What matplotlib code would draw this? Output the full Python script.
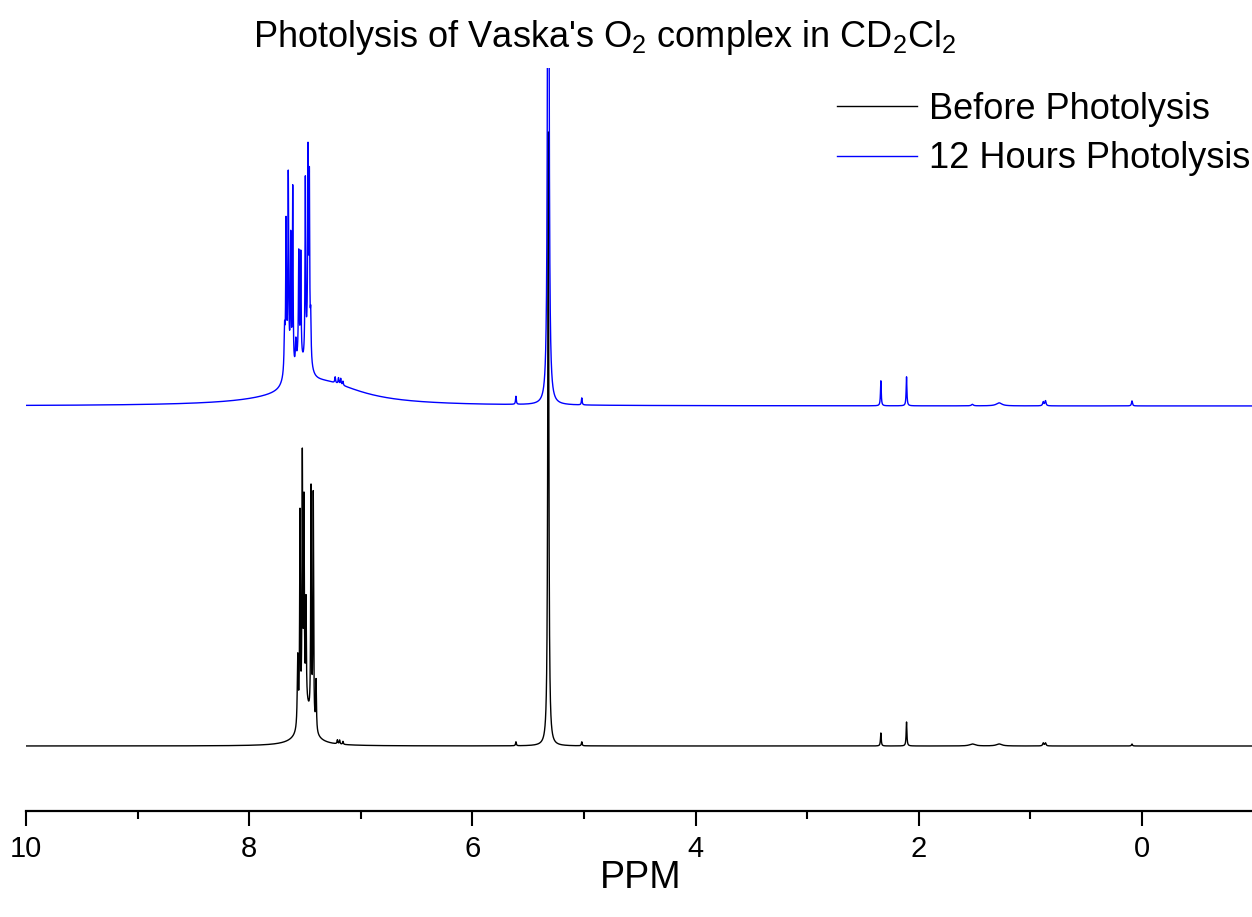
import numpy as np
import matplotlib
matplotlib.use("Agg")
import matplotlib.pyplot as plt
from matplotlib.lines import Line2D

plt.rcParams["font.family"] = ["Liberation Sans", "DejaVu Sans"]
plt.rcParams["mathtext.fontset"] = "custom"
plt.rcParams["mathtext.rm"] = "Liberation Sans"
plt.rcParams["mathtext.it"] = "Liberation Sans:italic"

# ---- peak tables (chemical shift in ppm, intensity in arbitrary units, half width at half max in ppm)
before_shift = [7.49, 7.565, 7.545, 7.524, 7.509, 7.491, 7.446, 7.426, 7.401,
                7.50, 7.21, 7.19, 7.16, 5.61, 5.32, 5.02,
                2.34, 2.11, 1.52, 1.28, 0.885, 0.865, 0.09]
before_height = [34, 70, 205, 252, 200, 100, 230, 230, 50,
                 4, 4, 4, 3, 4, 614, 4,
                 13, 24, 2, 2, 3, 3, 2]
before_hwhm = [0.05, 0.005, 0.0035, 0.0035, 0.0035, 0.0035, 0.0035, 0.0035, 0.004,
               0.15, 0.004, 0.004, 0.004, 0.004, 0.0054, 0.004,
               0.004, 0.004, 0.03, 0.03, 0.006, 0.006, 0.005]

after_shift = [7.35, 7.655, 7.55, 7.475,
               7.683, 7.670, 7.650, 7.628, 7.610, 7.582, 7.556, 7.538,
               7.497, 7.473, 7.461, 7.449,
               7.23, 7.20, 7.18, 7.16, 5.61, 5.32, 5.02,
               2.34, 2.11, 1.52, 1.28, 0.885, 0.865, 0.09]
after_height = [24, 30, 26, 34,
                40, 136, 178, 125, 180, 25, 100, 100,
                175, 185, 167, 40,
                6, 6, 6, 4, 8, 1100, 7,
                25, 29, 1.5, 3, 4, 5, 5]
after_hwhm = [0.42, 0.03, 0.03, 0.025,
              0.005, 0.0035, 0.0035, 0.0035, 0.0035, 0.005, 0.0035, 0.0035,
              0.0035, 0.0035, 0.0035, 0.004,
              0.004, 0.004, 0.004, 0.004, 0.004, 0.0054, 0.004,
              0.004, 0.004, 0.01, 0.03, 0.006, 0.006, 0.005]

after_offset = 340

x_ticks = [10, 8, 6, 4, 2, 0]
x_minor = [9, 7, 5, 3, 1, -1]


def spectrum(ppm, shifts, heights, widths):
    y = np.zeros_like(ppm)
    for c, h, w in zip(shifts, heights, widths):
        y += h * w ** 2 / ((ppm - c) ** 2 + w ** 2)
    return y


ppm = np.linspace(10.2, -1.2, 45601)
before = spectrum(ppm, before_shift, before_height, before_hwhm)
after = spectrum(ppm, after_shift, after_height, after_hwhm) + after_offset

W, H = 1252, 917
fig = plt.figure(figsize=(W / 100, H / 100), dpi=100)
ax = fig.add_axes([26 / W, 1 - 811 / H, (1253.6 - 26) / W, (811 - 68) / H])

ax.plot(ppm, before, color="black", lw=1.0)
ax.plot(ppm, after, color="#0000ff", lw=1.0)

ax.set_xlim(10, -1)
ax.set_ylim(-65, 678)

for side in ("left", "right", "top"):
    ax.spines[side].set_visible(False)
ax.spines["bottom"].set_linewidth(1.6)
ax.set_yticks([])
ax.set_xticks(x_ticks)
ax.set_xticks(x_minor, minor=True)
ax.set_xticklabels([str(t) for t in x_ticks])
ax.tick_params(axis="x", which="major", length=11, width=1.5, labelsize=21, pad=6)
ax.tick_params(axis="x", which="minor", length=6, width=1.5)

fig.text(641 / W, 1 - 888 / H, "PPM", ha="center", va="baseline", fontsize=27)
fig.text(605 / W, 1 - 47 / H, "Photolysis of Vaska's O$_2$ complex in CD$_2$Cl$_2$",
         ha="center", va="baseline", fontsize=26)

handles = [Line2D([], [], color="black", lw=1.0),
           Line2D([], [], color="#0000ff", lw=1.0)]
fig.legend(handles, ["Before Photolysis", "12 Hours Photolysis"],
           loc="upper right", bbox_to_anchor=(1250 / W, 1 - 92 / H),
           frameon=False, fontsize=26, handlelength=2.2, handletextpad=0.33,
           labelspacing=0.4, borderpad=0, borderaxespad=0)

fig.savefig("out.png", dpi=100)
